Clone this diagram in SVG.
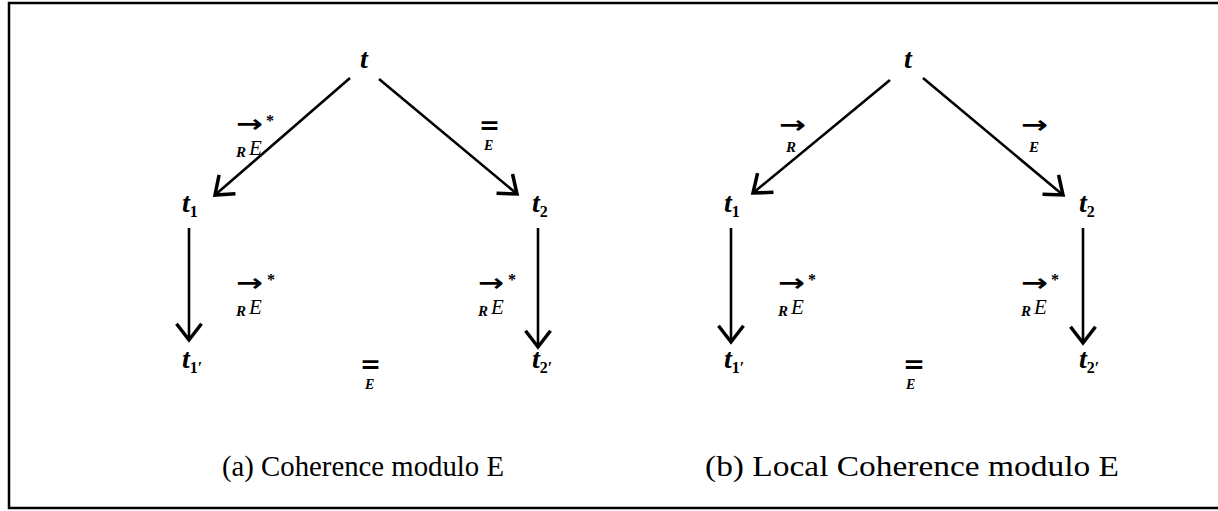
<svg xmlns="http://www.w3.org/2000/svg" width="1218" height="511" viewBox="0 0 1218 511">
<style>
.frame{fill:none;stroke:#000;stroke-width:2.5}
.edge{fill:none;stroke:#000;stroke-width:2.6}
.n{font-family:"Liberation Serif",serif;font-style:italic;font-weight:bold;font-size:28px;fill:#000}
.sub{font-style:normal;font-weight:bold;font-size:16px}
.sym{font-family:"DejaVu Sans",sans-serif;font-size:24px;font-weight:bold;fill:#000}
.star{font-family:"Liberation Serif",serif;font-size:16px;font-weight:bold;fill:#000}
.le{font-family:"Liberation Serif",serif;font-style:italic;font-size:21px;fill:#000}
.ls{font-family:"Liberation Serif",serif;font-style:italic;font-size:15px;font-weight:bold;fill:#000}
.cap{font-family:"Liberation Serif",serif;font-size:29px;fill:#000}
</style>
<defs>
<marker id="ah" markerUnits="userSpaceOnUse" markerWidth="30" markerHeight="30" viewBox="-16 -12 20 24" refX="0" refY="0" orient="auto">
<path d="M-13,-10 L0,0 L-13,10" fill="none" stroke="#000" stroke-width="2.8"/>
</marker>
</defs>
<rect width="1218" height="511" fill="#fff"/>
<path class="frame" d="M1218,3 H9 V508 H1218"/>

<g id="connectors">
<line class="edge" x1="350" y1="78" x2="215" y2="195" marker-end="url(#ah)"/>
<line class="edge" x1="379" y1="79" x2="517" y2="194" marker-end="url(#ah)"/>
<line class="edge" x1="189" y1="228" x2="189" y2="340" marker-end="url(#ah)"/>
<line class="edge" x1="538" y1="228" x2="538" y2="347" marker-end="url(#ah)"/>
<line class="edge" x1="890" y1="80" x2="753" y2="193" marker-end="url(#ah)"/>
<line class="edge" x1="923" y1="78" x2="1063" y2="195" marker-end="url(#ah)"/>
<line class="edge" x1="731" y1="228" x2="731" y2="342" marker-end="url(#ah)"/>
<line class="edge" x1="1083" y1="228" x2="1083" y2="343" marker-end="url(#ah)"/>
</g>

<g id="a-t"><text class="n" x="360" y="68">t</text></g>
<g id="a-t1"><text class="n" x="182" y="212">t<tspan class="sub" dy="5">1</tspan></text></g>
<g id="a-t2"><text class="n" x="532" y="212">t<tspan class="sub" dy="5">2</tspan></text></g>
<g id="a-t1p"><text class="n" x="182" y="368">t<tspan class="sub" dy="5">1′</tspan></text></g>
<g id="a-t2p"><text class="n" x="532" y="368">t<tspan class="sub" dy="5">2′</tspan></text></g>

<g id="b-t"><text class="n" x="904" y="68">t</text></g>
<g id="b-t1"><text class="n" x="724" y="212">t<tspan class="sub" dy="5">1</tspan></text></g>
<g id="b-t2"><text class="n" x="1079" y="212">t<tspan class="sub" dy="5">2</tspan></text></g>
<g id="b-t1p"><text class="n" x="724" y="368">t<tspan class="sub" dy="5">1′</tspan></text></g>
<g id="b-t2p"><text class="n" x="1079" y="368">t<tspan class="sub" dy="5">2′</tspan></text></g>

<g id="labels">
<!-- (a) upper left -->
<text class="sym" x="236" y="132" textLength="27" lengthAdjust="spacingAndGlyphs">→</text>
<text class="star" x="266" y="126">*</text>
<text class="ls" x="236" y="157">R</text><text class="le" x="249" y="155">E</text>
<!-- (a) upper right -->
<text class="sym" x="479" y="134" textLength="21" lengthAdjust="spacingAndGlyphs">=</text>
<text class="ls" x="484" y="150" style="font-size:14px">E</text>
<!-- (a) middle left -->
<text class="sym" x="236" y="291" textLength="27" lengthAdjust="spacingAndGlyphs">→</text>
<text class="star" x="267" y="285">*</text>
<text class="ls" x="236" y="316">R</text><text class="le" x="249" y="314">E</text>
<!-- (a) middle right -->
<text class="sym" x="478" y="291" textLength="26" lengthAdjust="spacingAndGlyphs">→</text>
<text class="star" x="508" y="285">*</text>
<text class="ls" x="478" y="316">R</text><text class="le" x="491" y="314">E</text>
<!-- (a) bottom -->
<text class="sym" x="360" y="373" textLength="21" lengthAdjust="spacingAndGlyphs">=</text>
<text class="ls" x="365" y="389" style="font-size:14px">E</text>

<!-- (b) upper left -->
<text class="sym" x="779" y="133" textLength="27" lengthAdjust="spacingAndGlyphs">→</text>
<text class="ls" x="786" y="152">R</text>
<!-- (b) upper right -->
<text class="sym" x="1021" y="133" textLength="27" lengthAdjust="spacingAndGlyphs">→</text>
<text class="ls" x="1029" y="152">E</text>
<!-- (b) middle left -->
<text class="sym" x="778" y="291" textLength="27" lengthAdjust="spacingAndGlyphs">→</text>
<text class="star" x="808" y="285">*</text>
<text class="ls" x="778" y="316">R</text><text class="le" x="791" y="314">E</text>
<!-- (b) middle right -->
<text class="sym" x="1021" y="291" textLength="27" lengthAdjust="spacingAndGlyphs">→</text>
<text class="star" x="1051" y="285">*</text>
<text class="ls" x="1021" y="316">R</text><text class="le" x="1034" y="314">E</text>
<!-- (b) bottom -->
<text class="sym" x="903" y="373" textLength="22" lengthAdjust="spacingAndGlyphs">=</text>
<text class="ls" x="906" y="389" style="font-size:14px">E</text>
</g>

<g id="captions">
<text class="cap" x="222" y="476" textLength="282" lengthAdjust="spacingAndGlyphs">(a) Coherence modulo E</text>
<text class="cap" x="705" y="476" textLength="414" lengthAdjust="spacingAndGlyphs">(b) Local Coherence modulo E</text>
</g>
</svg>
